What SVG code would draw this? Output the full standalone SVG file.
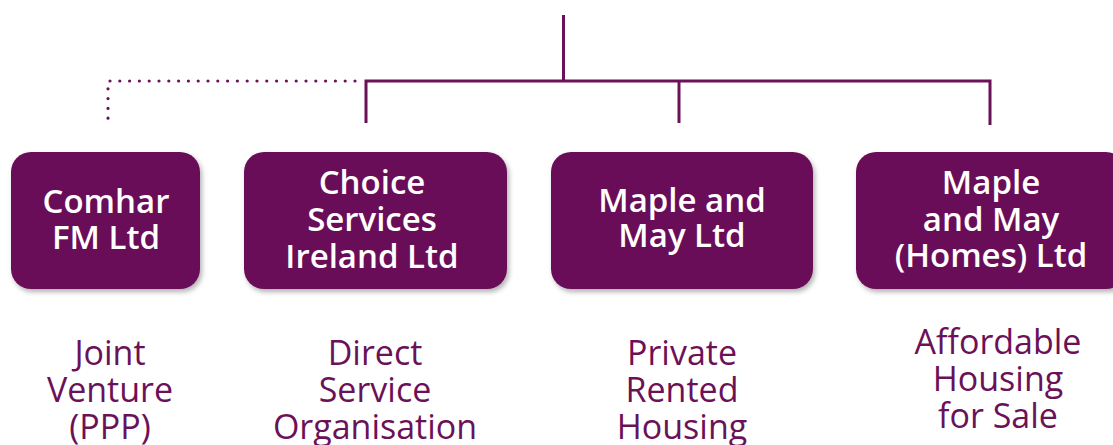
<svg xmlns="http://www.w3.org/2000/svg" width="1113" height="445" viewBox="0 0 1113 445">
<style>
.ln{stroke:#6b1158;stroke-width:3;fill:none}
.dot{stroke:#6b1158;stroke-width:3.2;fill:none;stroke-linecap:round;stroke-dasharray:0 9.8}
.box{fill:#6b1158;filter:url(#sh)}
.bt{font-family:"Open Sans","Liberation Sans",sans-serif;font-weight:600;font-size:33px;fill:#ffffff;text-anchor:middle}
.lt{font-family:"Open Sans","Liberation Sans",sans-serif;font-weight:400;font-size:34px;fill:#6b1158;text-anchor:middle}
</style>
<defs>
<filter id="sh" x="-10%" y="-10%" width="125%" height="130%">
<feDropShadow dx="2" dy="3" stdDeviation="2.5" flood-color="#000" flood-opacity="0.3"/>
</filter>
</defs>
<g id="connectors">
<line class="ln" x1="563.5" y1="15" x2="563.5" y2="81"/>
<polyline class="ln" points="366,123 366,81 990,81 990,125"/>
<line class="ln" x1="679" y1="81" x2="679" y2="123"/>
<polyline class="dot" points="355,81 108,81 108,124"/>
</g>
<g id="node-comhar">
<rect class="box" x="11" y="152" width="189" height="137" rx="20"/>
<text class="bt" x="106" y="213">Comhar</text>
<text class="bt" x="106" y="249">FM Ltd</text>
</g>
<g id="node-choice">
<rect class="box" x="244" y="152" width="263" height="137" rx="20"/>
<text class="bt" x="372" y="194">Choice</text>
<text class="bt" x="372" y="231">Services</text>
<text class="bt" x="372" y="268">Ireland Ltd</text>
</g>
<g id="node-maple">
<rect class="box" x="551" y="152" width="262" height="137" rx="20"/>
<text class="bt" x="682" y="212">Maple and</text>
<text class="bt" x="682" y="247">May Ltd</text>
</g>
<g id="node-homes">
<rect class="box" x="856" y="152" width="270" height="137" rx="20"/>
<text class="bt" x="991" y="194">Maple</text>
<text class="bt" x="991" y="231">and May</text>
<text class="bt" x="991" y="267">(Homes) Ltd</text>
</g>
<g id="label-jv">
<text class="lt" x="110" y="365">Joint</text>
<text class="lt" x="110" y="402">Venture</text>
<text class="lt" x="110" y="439">(PPP)</text>
</g>
<g id="label-dso">
<text class="lt" x="375" y="365">Direct</text>
<text class="lt" x="375" y="402">Service</text>
<text class="lt" x="375" y="439">Organisation</text>
</g>
<g id="label-prh">
<text class="lt" x="682" y="365">Private</text>
<text class="lt" x="682" y="402">Rented</text>
<text class="lt" x="682" y="439">Housing</text>
</g>
<g id="label-ahs">
<text class="lt" x="998" y="354">Affordable</text>
<text class="lt" x="998" y="391">Housing</text>
<text class="lt" x="998" y="428">for Sale</text>
</g>
</svg>
